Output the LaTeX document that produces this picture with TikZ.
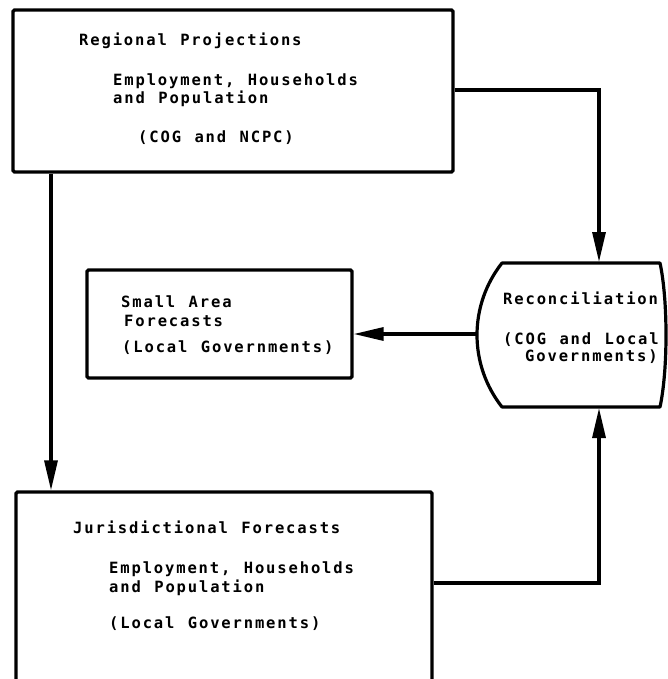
\documentclass[tikz,border=0pt]{standalone}
\usepackage{fontspec}
\newfontfamily\tw{DejaVu Sans Mono Bold}[LetterSpace=12,WordSpace=1.2]
\usetikzlibrary{arrows.meta}
\begin{document}
\begin{tikzpicture}[x=1pt,y=-1pt,
  box/.style={draw, line width=3.2pt, rounded corners=1.5pt, inner sep=0pt},
  lbl/.style={anchor=base west, inner sep=0pt, font=\tw\fontsize{15.5}{18}\selectfont},
  conn/.style={line width=3.2pt},
  arr/.style={conn, -{Triangle[length=30pt,width=13pt]}}]
\useasboundingbox (0,0) rectangle (667,679);
\fill[white] (0,0) rectangle (667,679);

% boxes
\node[box, minimum width=440pt, minimum height=162pt] (top) at (233,91) {};
\node[box, minimum width=265pt, minimum height=108pt] (small) at (219.5,324) {};
\node[box, minimum width=416pt, minimum height=191pt] (jur) at (224,587.5) {};

% reconciliation shape
\draw[conn, line join=round] (502,263) -- (660,263)
  .. controls (668,300) and (668,370) .. (660,407) -- (502,407)
  .. controls (485.8,386.4) and (477,361.2) .. (477,335)
  .. controls (477,308.8) and (485.8,283.6) .. cycle;
\coordinate (recN) at (599,262);
\coordinate (recS) at (599,408);
\coordinate (recW) at (477,334);

% helper coordinates
\coordinate (lx) at (51,0);
\coordinate (ty) at (0,90);
\coordinate (jy) at (0,583);

% connectors
\draw[arr] (top.east |- ty) -| (recN);
\draw[arr] (top.south -| lx) -- (jur.north -| lx);
\draw[arr] (jur.east |- jy) -| (recS);
\draw[arr] (recW) -- (recW -| small.east);

% texts
\node[lbl] (t1) at (79,45.5) {Regional Projections};
\node[lbl] (t2) at (113,85.5) {Employment, Households};
\node[lbl] (t3) at (113,103.5) {and Population};
\node[lbl] (t4) at (138,142.5) {(COG and NCPC)};

\node[lbl] (s1) at (121,307.5) {Small Area};
\node[lbl] (s2) at (124,326) {Forecasts};
\node[lbl] (s3) at (122,352.5) {(Local Governments)};

\node[lbl] (r1) at (503,304.5) {Reconciliation};
\node[lbl] (r2) at (503,344.5) {(COG and Local};
\node[lbl] (r3) at (525,361) {Governments)};

\node[lbl] (j1) at (73,533.5) {Jurisdictional Forecasts};
\node[lbl] (j2) at (109,573.5) {Employment, Households};
\node[lbl] (j3) at (109,592.5) {and Population};
\node[lbl] (j4) at (109,628.5) {(Local Governments)};
\end{tikzpicture}
\end{document}
